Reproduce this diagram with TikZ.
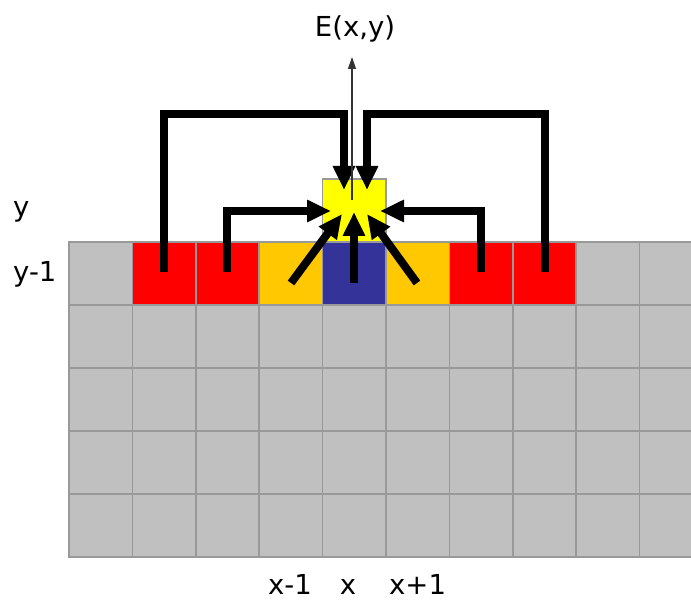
\documentclass[tikz,border=0pt]{standalone}
\usepackage{fontspec}
\setmainfont{DejaVu Sans}
\usetikzlibrary{arrows.meta}
\definecolor{cellgray}{HTML}{C0C0C0}
\definecolor{gridline}{HTML}{999999}
\definecolor{cellred}{HTML}{FF0000}
\definecolor{cellorange}{HTML}{FFC800}
\definecolor{cellblue}{HTML}{333399}
\definecolor{cellyellow}{HTML}{FFFF00}
\tikzset{
  cell/.style={draw=gridline, line width=1.6pt, minimum width=63.4pt, minimum height=63pt, inner sep=0pt, anchor=north west, outer sep=0pt},
  fatarrow/.style={line width=8pt, line join=miter, -{Triangle[length=24pt,width=21pt]}},
  thinarrow/.style={line width=1.2pt, draw=black!80, -{Triangle[length=12pt,width=8pt]}},
  lab/.style={font=\fontsize{27.5}{30}\selectfont, inner sep=0pt}
}
\begin{document}
\begin{tikzpicture}[x=1pt,y=-1pt]
\useasboundingbox (0,0) rectangle (691,601);
\begin{scope}
\clip (0,0) rectangle (691,601);
% grid of cells
\foreach \r in {0,...,4}{
  \foreach \c in {0,...,9}{
    \node[cell, fill=cellgray] (c-\r-\c) at ({69+63.4*\c},{242+63*\r}) {};
  }
}
\foreach \c in {1,2,6,7}{
  \node[cell, fill=cellred] (r-\c) at ({69+63.4*\c},242) {};
}
\node[cell, fill=cellorange] (o-3) at ({69+63.4*3},242) {};
\node[cell, fill=cellorange] (o-5) at ({69+63.4*5},242) {};
\node[cell, fill=cellblue] (b-4) at ({69+63.4*4},242) {};
\node[cell, fill=cellyellow] (yc) at ({69+63.4*4},179) {};
\end{scope}
% coordinates
\coordinate (s1) at (164,272);
\coordinate (s2) at (227,272);
\coordinate (s6) at (481,272);
\coordinate (s7) at (545,272);
\coordinate (t1) at (344,190);
\coordinate (t2) at (331,211);
\coordinate (t6) at (380,211);
\coordinate (t7) at (367,190);
\coordinate (d3) at (291,283);
\coordinate (d4) at (354,283);
\coordinate (d5) at (417,283);
\coordinate (e3) at (342,214);
\coordinate (e4) at (354,212);
\coordinate (e5) at (367,214);
\coordinate (th0) at (352,200);
% fat arrows
\draw[fatarrow] (s1) |- (344,114) -- (t1);
\draw[fatarrow] (s2) |- (t2);
\draw[fatarrow] (s7) |- (367,114) -- (t7);
\draw[fatarrow] (s6) |- (t6);
\draw[fatarrow] (d3) -- (e3);
\draw[fatarrow] (d4) -- (e4);
\draw[fatarrow] (d5) -- (e5);
% thin arrow
\node[lab, anchor=base] (E) at (355,37) {E(x,y)};
\draw[thinarrow] (th0) -- (352,57);
% labels
\node[lab, anchor=base west] (ly) at (13,217) {y};
\node[lab, anchor=base west] (ly1) at (13,282) {y-1};
\node[lab, anchor=base west] (lx1) at (268,594) {x-1};
\node[lab, anchor=base] (lx) at (348,594) {x};
\node[lab, anchor=base west] (lx2) at (389,594) {x+1};
\end{tikzpicture}
\end{document}
